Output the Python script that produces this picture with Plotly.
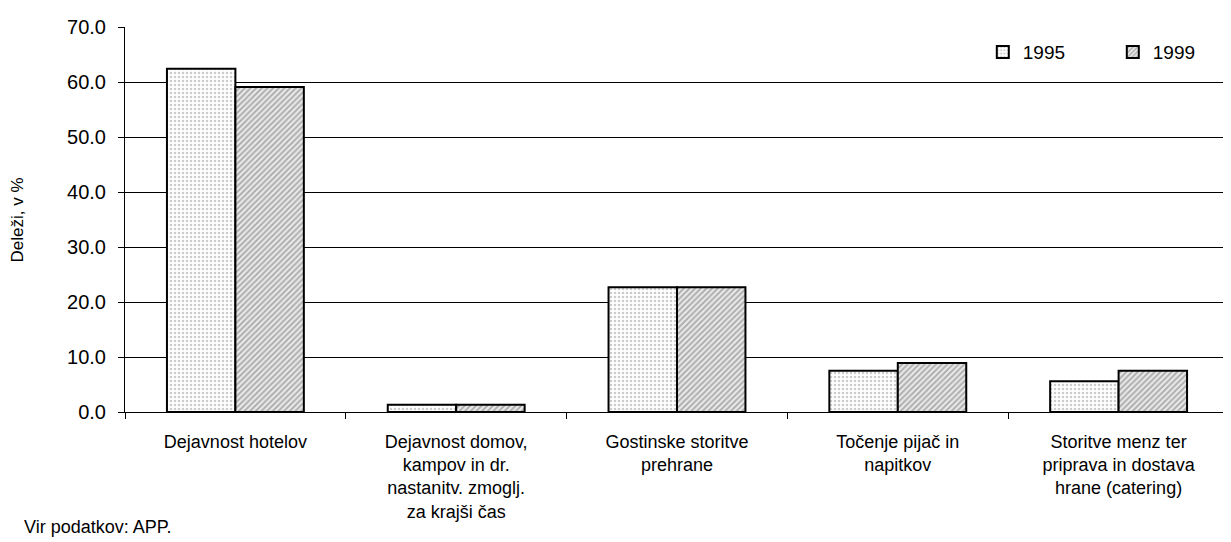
import plotly.graph_objects as go

categories = [
    "Dejavnost hotelov",
    "Dejavnost domov,<br>kampov in dr.<br>nastanitv. zmoglj.<br>za krajši čas",
    "Gostinske storitve<br>prehrane",
    "Točenje pijač in<br>napitkov",
    "Storitve menz ter<br>priprava in dostava<br>hrane (catering)",
]
values_1995 = [62.4, 1.3, 22.7, 7.5, 5.6]
values_1999 = [59.1, 1.3, 22.7, 8.9, 7.5]
y_ticks = [0, 10, 20, 30, 40, 50, 60, 70]

font = "Liberation Sans, Arial, sans-serif"

fig = go.Figure()
fig.add_bar(
    x=categories, y=values_1995, name="1995",
    marker=dict(color="white", line=dict(color="black", width=2),
                pattern=dict(shape=".", fgcolor="#9a9a9a", bgcolor="white", size=4, solidity=0.35)),
)
fig.add_bar(
    x=categories, y=values_1999, name="1999",
    marker=dict(color="white", line=dict(color="black", width=2),
                pattern=dict(shape="/", fgcolor="#6a6a6a", bgcolor="#e8e8e8", size=4, solidity=0.45)),
)

# page body has an 8px margin; margins compensate so the plot area sits where the reference's does
fig.update_layout(
    width=1231, height=542,
    margin=dict(l=117, r=10, t=19, b=138, autoexpand=False),
    plot_bgcolor="white", paper_bgcolor="white",
    barmode="group", bargap=0.38, bargroupgap=0,
    font=dict(family=font, size=18, color="black"),
    showlegend=True,
    legend=dict(orientation="h", x=0.777, y=0.935, xanchor="left", yanchor="middle",
                font=dict(size=19), entrywidth=85, entrywidthmode="pixels",
                traceorder="normal", bgcolor="rgba(0,0,0,0)"),
)
fig.update_yaxes(
    range=[0, 70], tickvals=y_ticks, tickformat=".1f",
    showgrid=True, gridcolor="black", gridwidth=1,
    showline=True, linecolor="black", linewidth=1,
    ticks="outside", ticklen=6, tickcolor="black",
    zeroline=False, automargin=False,
    tickfont=dict(size=20), ticklabelstandoff=8,
)
fig.update_xaxes(
    showline=True, linecolor="black", linewidth=1,
    ticks="outside", tickson="boundaries", ticklen=6, tickcolor="black",
    tickfont=dict(size=18), ticklabelstandoff=13, automargin=False,
)
fig.add_annotation(
    text="Deleži, v %", xref="paper", yref="paper",
    x=-0.097, y=0.5, xanchor="center", yanchor="middle", textangle=-90,
    showarrow=False, font=dict(size=17),
)
fig.add_annotation(
    text="Vir podatkov: APP.", xref="paper", yref="paper",
    x=-0.0933, y=-0.299, xanchor="left", yanchor="middle",
    showarrow=False, font=dict(size=18),
)

fig.write_html("out.html")
